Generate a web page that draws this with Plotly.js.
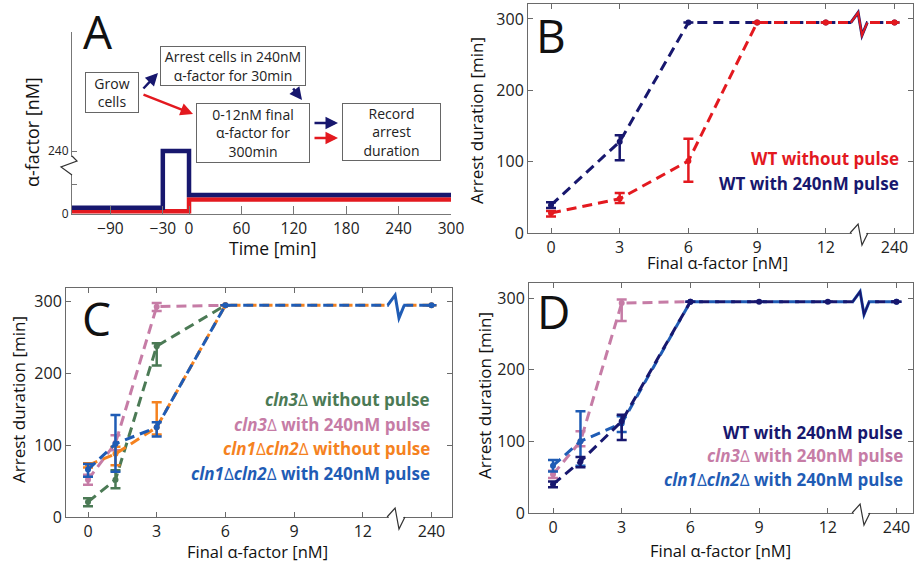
<!DOCTYPE html>
<html>
<head>
<meta charset="utf-8">
<script src="https://cdn.plot.ly/plotly-3.0.1.min.js"></script>
<style>html,body{margin:0;padding:0;background:#fff;}#chart{width:914px;height:564px;}</style>
</head>
<body>
<div id="chart"></div>
<script>
// ---------------- DATA ----------------
// Panel A (schematic protocol); y in display units, 20 = 240 nM (broken axis)
const timeA_pulse = [-134, -30, -30, 0, 0, 300];
const alphaA_pulse = [2.0, 2.0, 20, 20, 6.0, 6.0];
const timeA_noPulse = [-134, 0, 0, 300];
const alphaA_noPulse = [0.9, 0.9, 4.6, 4.6];
const tickValsA_x = [-90, -30, 0, 60, 120, 180, 240, 300];
const tickValsA_y = [0, 9.5, 20];
const tickTextA_y = ['0', '', '240'];

// Broken x axis for B, C, D (240 nM drawn after the break)
const tickPosBCD = [0, 3, 6, 9, 12, 15];
const tickTextBCD = ['0', '3', '6', '9', '12', '240'];

// Panel B
const concB = [0, 3, 6, 9, 12, 240];
const wtNoPulseB = [28, 48, 101, 295, 295, 295];
const wtNoPulseB_plus = [3, 8, 31, null, null, null];
const wtNoPulseB_minus = [5, 6, 29, null, null, null];
const wtPulseB = [39, 128, 295, 295, 295, 295];
const wtPulseB_plus = [4, 9, null, null, null, null];
const wtPulseB_minus = [4, 26, null, null, null, null];

// Panel C
const concC = [0, 1.2, 3, 6, 240];
const cln3NoPulseC = [21, 52, 238, 295, 295];
const cln3NoPulseC_plus = [5, 13, 4, null, null];
const cln3NoPulseC_minus = [6, 12, 27, null, null];
const cln3PulseC = [52, 103, 293, 295, 295];
const cln3PulseC_plus = [7, 11, 5, null, null];
const cln3PulseC_minus = [7, 10, 6, null, null];
const cln12NoPulseC = [72, 88, 125, 295, 295];
const cln12NoPulseC_plus = [3, 10, 35, null, null];
const cln12NoPulseC_minus = [3, 16, 10, null, null];
const cln12PulseC = [66, 102, 125, 295, 295];
const cln12PulseC_plus = [8, 40, 7, null, null];
const cln12PulseC_minus = [10, 39, 13, null, null];

// Panel D
const concD_wt = [0, 1.2, 3, 6, 9, 12, 240];
const wtPulseD = [40, 72, 128, 295, 295, 295, 295];
const wtPulseD_plus = [4, 6, 9, null, null, null, null];
const wtPulseD_minus = [4, 8, 26, null, null, null, null];
const concD_cln3 = [0, 1.2, 3, 6];
const cln3PulseD = [54, 100, 293, 295];
const cln3PulseD_plus = [5, 14, 5, null];
const cln3PulseD_minus = [5, 7, 25, null];
const concD_cln12 = [0, 1.2, 3, 6, 240];
const cln12PulseD = [66, 100, 125, 295, 295];
const cln12PulseD_plus = [8, 42, 10, null, null];
const cln12PulseD_minus = [8, 34, 12, null, null];

// ---------------- STYLE ----------------
const RED = '#e3191f', NAVY = '#17176e', GREEN = '#4b7a55', PINK = '#c67ca6', ORANGE = '#f5821f', BLUE = '#1f5cb5';
const FONT = 'Open Sans, Noto Sans, sans-serif';
const W = 914, H = 564;
const fx = p => p / W, fy = p => 1 - p / H;
const brk = c => (c > 12 ? 15 : c);

function series(xa, ya, conc, y, plus, minus, color, dash) {
  return {
    type: 'scatter', mode: 'lines+markers', xaxis: xa, yaxis: ya,
    x: conc.map(brk), y: y,
    line: {color: color, width: 3, dash: dash || '10px,6px'},
    marker: {color: color, size: 6},
    error_y: {type: 'data', symmetric: false, array: plus, arrayminus: minus,
              color: color, thickness: 2.5, width: 5},
    showlegend: false, hoverinfo: 'skip'
  };
}

const traces = [
  {type: 'scatter', mode: 'lines', x: timeA_noPulse, y: alphaA_noPulse, xaxis: 'x', yaxis: 'y',
   line: {color: RED, width: 4.5}, showlegend: false, hoverinfo: 'skip'},
  {type: 'scatter', mode: 'lines', x: timeA_pulse, y: alphaA_pulse, xaxis: 'x', yaxis: 'y',
   line: {color: NAVY, width: 4.5}, showlegend: false, hoverinfo: 'skip'},

  series('x2', 'y2', concB, wtPulseB, wtPulseB_plus, wtPulseB_minus, NAVY),
  series('x2', 'y2', concB, wtNoPulseB, wtNoPulseB_plus, wtNoPulseB_minus, RED),

  series('x3', 'y3', concC.slice(0, 4), cln3NoPulseC.slice(0, 4), cln3NoPulseC_plus, cln3NoPulseC_minus, GREEN),
  series('x3', 'y3', concC.slice(0, 4), cln3PulseC.slice(0, 4), cln3PulseC_plus, cln3PulseC_minus, PINK),
  series('x3', 'y3', concC, cln12NoPulseC, cln12NoPulseC_plus, cln12NoPulseC_minus, ORANGE),
  series('x3', 'y3', concC, cln12PulseC, cln12PulseC_plus, cln12PulseC_minus, BLUE),

  series('x4', 'y4', concD_cln3, cln3PulseD, cln3PulseD_plus, cln3PulseD_minus, PINK),
  series('x4', 'y4', concD_cln12, cln12PulseD, cln12PulseD_plus, cln12PulseD_minus, BLUE),
  series('x4', 'y4', concD_wt, wtPulseD, wtPulseD_plus, wtPulseD_minus, NAVY)
];

const boxAxis = {
  showline: true, linecolor: '#6a6a6a', linewidth: 1, mirror: 'ticks',
  ticks: 'inside', ticklen: 5, tickcolor: '#6a6a6a', tickwidth: 1,
  showgrid: false, zeroline: false, fixedrange: true,
  tickfont: {family: FONT, size: 16, color: '#222'}
};
function bx(domainPx, zeroPx, pxPerUnit) {
  return Object.assign({}, boxAxis, {
    domain: [fx(domainPx[0]), fx(domainPx[1])],
    range: [(domainPx[0] - zeroPx) / pxPerUnit, (domainPx[1] - zeroPx) / pxPerUnit],
    tickmode: 'array', tickvals: tickPosBCD, ticktext: tickTextBCD
  });
}
function by(domainPx, top) {
  return Object.assign({}, boxAxis, {
    domain: [fy(domainPx[1]), fy(domainPx[0])], range: [0, top],
    tickmode: 'array', tickvals: [0, 100, 200, 300]
  });
}

const layout = {
  width: W, height: H, margin: {l: 0, r: 0, t: 0, b: 0},
  paper_bgcolor: '#fff', plot_bgcolor: 'rgba(0,0,0,0)',
  font: {family: FONT, color: '#222'},
  xaxis: {domain: [fx(72), fx(451)], range: [-134, 300], anchor: 'y',
          tickmode: 'array', tickvals: tickValsA_x, ticks: 'inside', ticklen: 8,
          tickcolor: '#777', showline: true, linecolor: '#777', linewidth: 1,
          showgrid: false, zeroline: false, fixedrange: true,
          tickfont: {family: FONT, size: 15.5, color: '#222'}},
  yaxis: {domain: [fy(214), fy(32)], range: [0, 57.8], anchor: 'x',
          tickmode: 'array', tickvals: tickValsA_y, ticktext: tickTextA_y,
          ticks: 'inside', ticklen: 5, tickcolor: '#777', showline: true, linecolor: '#777', linewidth: 1,
          showgrid: false, zeroline: false, fixedrange: true,
          tickfont: {family: FONT, size: 12, color: '#222'}},
  xaxis2: Object.assign(bx([528, 913], 551, 22.9), {anchor: 'y2'}),
  yaxis2: Object.assign(by([4, 233], 321), {anchor: 'x2'}),
  xaxis3: Object.assign(bx([66, 452], 88, 22.9), {anchor: 'y3'}),
  yaxis3: Object.assign(by([288, 517], 319), {anchor: 'x3'}),
  xaxis4: Object.assign(bx([529, 913], 553, 22.9), {anchor: 'y4'}),
  yaxis4: Object.assign(by([283, 513], 321), {anchor: 'x4'}),
  shapes: [], annotations: []
};

// ---- break marks ----
function px2paperX(ax, v) { const d = ax.domain, r = ax.range; return d[0] + (v - r[0]) / (r[1] - r[0]) * (d[1] - d[0]); }
const brkX = [13.14, 13.41, 13.58, 13.76];
[['x2', 'y2', 'xaxis2', 'yaxis2', [NAVY, RED]], ['x3', 'y3', 'xaxis3', 'yaxis3', [BLUE]], ['x4', 'y4', 'xaxis4', 'yaxis4', [BLUE, NAVY]]].forEach(function (p) {
  const xa = layout[p[2]], ya = layout[p[3]];
  layout.shapes.push({type: 'rect', xref: p[0], yref: p[1], x0: brkX[0], x1: brkX[3], y0: 289, y1: 301,
                      fillcolor: '#fff', line: {width: 0}, layer: 'above'});
  p[4].forEach(function (c, i) {
    layout.shapes.push({type: 'path', xref: p[0], yref: p[1], layer: 'above',
      path: 'M' + (brkX[0] - 0.05) + ',295 L' + brkX[1] + ',309 L' + brkX[2] + ',277 L' + (brkX[3] + 0.05) + ',295',
      line: {color: c, width: i === 0 ? 3 : 2}});
  });
  const yb = ya.domain[0];
  const xs = brkX.map(v => px2paperX(xa, v));
  layout.shapes.push({type: 'rect', xref: 'paper', yref: 'paper', x0: xs[0], x1: xs[3], y0: yb - 2 / H, y1: yb + 2 / H,
                      fillcolor: '#fff', line: {width: 0}, layer: 'above'});
  layout.shapes.push({type: 'path', xref: 'paper', yref: 'paper', layer: 'above',
    path: 'M' + (xs[0] - 0.002) + ',' + yb + ' L' + xs[1] + ',' + (yb + 9 / H) + ' L' + xs[2] + ',' + (yb - 12 / H) + ' L' + (xs[3] + 0.002) + ',' + yb,
    line: {color: '#333', width: 1.2}});
});
(function () {
  const x0 = layout.xaxis.domain[0];
  layout.shapes.push({type: 'rect', xref: 'paper', yref: 'paper', x0: x0 - 2 / W, x1: x0 + 2 / W, y0: fy(174), y1: fy(157),
                      fillcolor: '#fff', line: {width: 0}, layer: 'above'});
  layout.shapes.push({type: 'path', xref: 'paper', yref: 'paper', layer: 'above',
    path: 'M' + x0 + ',' + fy(156) + ' L' + (x0 + 5 / W) + ',' + fy(161) + ' L' + (x0 - 11 / W) + ',' + fy(167) + ' L' + x0 + ',' + fy(175),
    line: {color: '#333', width: 1.2}});
})();

function ann(text, xp, yp, size, extra) {
  layout.annotations.push(Object.assign({text: text, x: fx(xp), y: fy(yp), xref: 'paper', yref: 'paper',
    showarrow: false, xanchor: 'center', yanchor: 'middle', font: {family: FONT, size: size, color: '#111'}}, extra || {}));
}
ann('A', 98, 31, 46); ann('B', 551, 35, 46); ann('C', 96, 318, 46); ann('D', 553, 311, 46);
ann('α-factor [nM]', 32, 132, 18, {textangle: -90});
ann('Time [min]', 272, 248, 17.5);
ann('Arrest duration [min]', 476, 121, 17, {textangle: -90});
ann('Final α-factor [nM]', 717, 262, 16.5);
ann('Arrest duration [min]', 18, 400, 17, {textangle: -90});
ann('Final α-factor [nM]', 257, 551, 16.5);
ann('Arrest duration [min]', 484, 396, 17, {textangle: -90});
ann('Final α-factor [nM]', 720, 550, 16.5);
function leg(text, xr, yc, color) { ann(text, xr, yc, 17, {xanchor: 'right', font: {family: FONT, size: 17, color: color}}); }
leg('<b>WT without pulse</b>', 901, 158, RED);
leg('<b>WT with 240nM pulse</b>', 901, 183, NAVY);
leg('<b><i>cln3</i></b>Δ<b> without pulse</b>', 432, 399, GREEN);
leg('<b><i>cln3</i></b>Δ<b> with 240nM pulse</b>', 432, 424, PINK);
leg('<b><i>cln1</i></b>Δ<b><i>cln2</i></b>Δ<b> without pulse</b>', 432, 448, ORANGE);
leg('<b><i>cln1</i></b>Δ<b><i>cln2</i></b>Δ<b> with 240nM pulse</b>', 432, 473, BLUE);
leg('<b>WT with 240nM pulse</b>', 905, 432, NAVY);
leg('<b><i>cln3</i></b>Δ<b> with 240nM pulse</b>', 905, 455, PINK);
leg('<b><i>cln1</i></b>Δ<b><i>cln2</i></b>Δ<b> with 240nM pulse</b>', 905, 479, BLUE);

function box(text, x0, y0, x1, y1) {
  layout.annotations.push({text: text, x: fx((x0 + x1) / 2), y: fy((y0 + y1) / 2), xref: 'paper', yref: 'paper',
    showarrow: false, xanchor: 'center', yanchor: 'middle', width: x1 - x0 - 2, height: y1 - y0 - 2,
    align: 'center', valign: 'middle', bordercolor: '#666', borderwidth: 1, borderpad: 0, bgcolor: '#fff',
    font: {family: FONT, size: 14, color: '#222'}});
}
box('Grow<br>cells', 85, 72, 139, 113);
box('Arrest cells in 240nM<br>α-factor for 30min', 160, 46, 306, 86);
box('0-12nM final<br>α-factor for<br>300min', 196, 103, 310, 163);
box('Record<br>arrest<br>duration', 342, 103, 441, 161);
function arrow(tx, ty, hx, hy, color) {
  layout.annotations.push({text: '', x: fx(hx), y: fy(hy), xref: 'paper', yref: 'paper', showarrow: true,
    ax: tx - hx, ay: ty - hy, arrowcolor: color, arrowwidth: 2.5, arrowhead: 2, arrowsize: 1});
}
arrow(142, 90, 158, 73, NAVY);
arrow(142, 94, 193, 114, RED);
arrow(292, 87, 302, 100, NAVY);
arrow(313, 123, 338, 123, NAVY);
arrow(313, 138, 338, 138, RED);

Plotly.newPlot('chart', traces, layout, {displayModeBar: false, staticPlot: true});
</script>
</body>
</html>
